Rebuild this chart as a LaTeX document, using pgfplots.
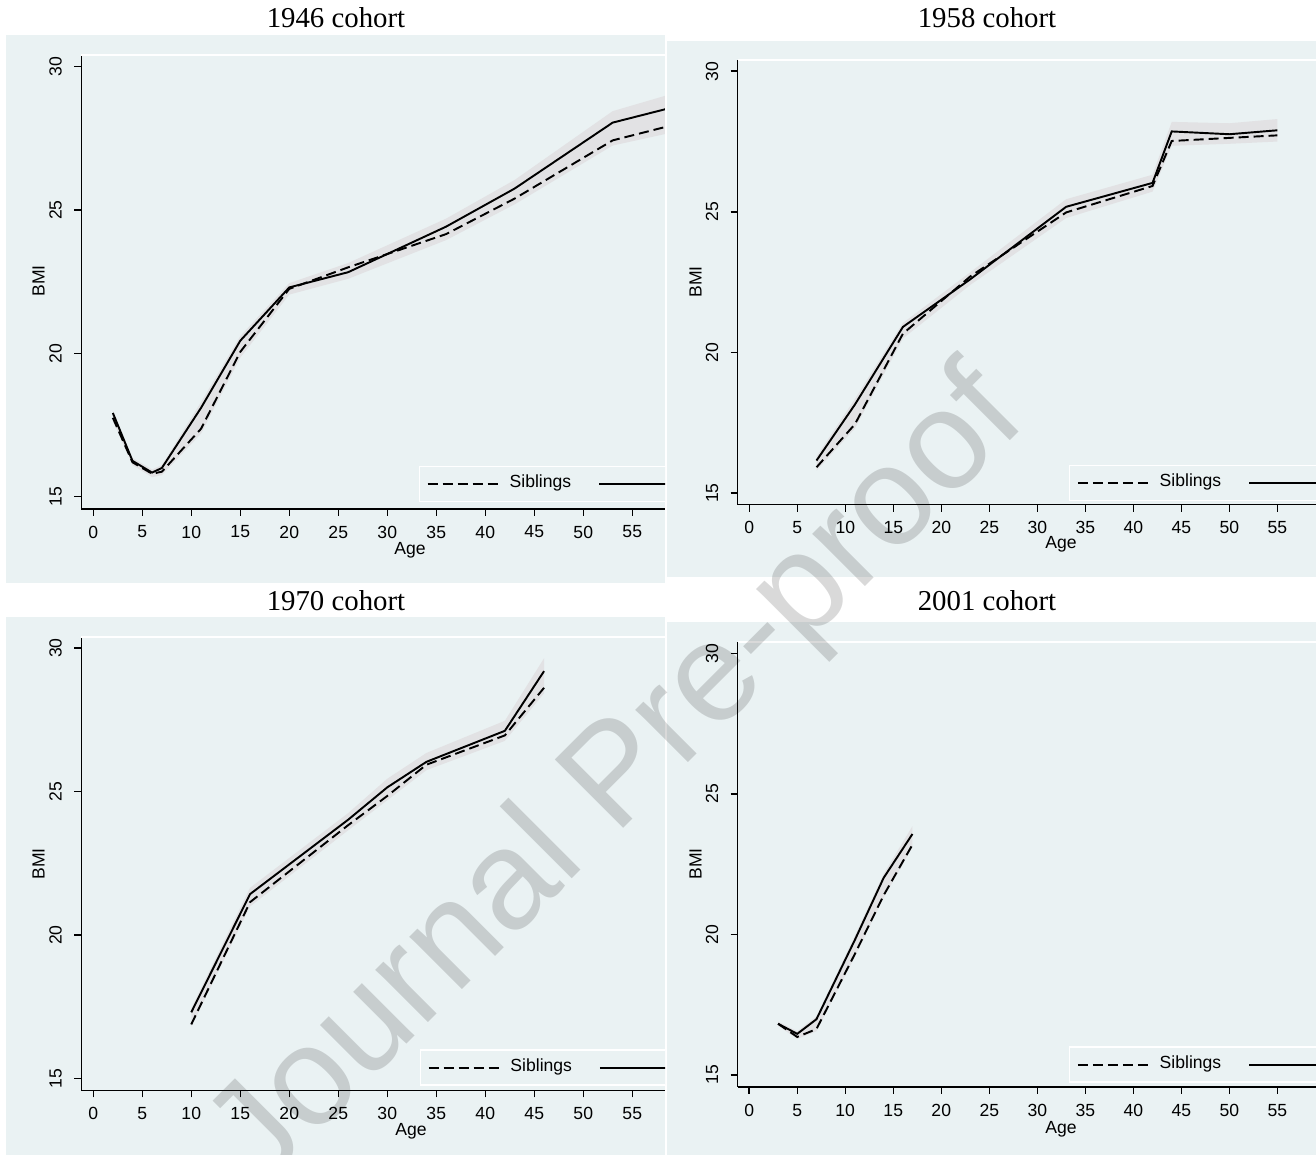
\documentclass[border=0pt]{standalone}
\usepackage{fontspec}
\setmainfont{Liberation Serif}
\setsansfont{Liberation Sans}
\usepackage{pgfplots}
\pgfplotsset{compat=1.18}
\definecolor{bgc}{RGB}{234,242,243}
\definecolor{bandc}{RGB}{226,226,228}
\newcommand{\tickfont}{\sffamily\fontsize{5}{6}\selectfont}
\newcommand{\titlefont}{\rmfamily\fontsize{8.2}{10}\selectfont}
\pgfplotsset{
  cohort/.style={
    scale only axis,
    anchor=south west,
    axis lines=left,
    axis line style={-, black, line width=0.42pt},
    tick align=outside,
    major tick length=0.07cm,
    tick style={black, line width=0.42pt},
    xtick={0,5,...,55},
    ytick={15,20,25,30},
    ticklabel style={font=\tickfont},
    /pgf/number format/assume math mode=true,
    xticklabel style={yshift=0.025cm},
    yticklabel style={rotate=90, anchor=south},
    clip=true,
    legend columns=2,
    legend cell align=left,
    legend style={draw=white, fill=bgc, font=\tickfont, anchor=north west,
      inner xsep=0.07cm, inner ysep=0.045cm, nodes={inner sep=0.04cm},
      /tikz/every odd column/.append style={column sep=0.06cm},
      /tikz/every even column/.append style={column sep=0.23cm}},
    legend image code/.code={\draw[##1] (0cm,0cm) -- (0.71cm,0cm);},
    extra description/.code={\draw[white, line width=0.6pt] (0,1) -- (1,1);},
  },
  sib/.style={black, line width=0.55pt, dash pattern=on 0.1cm off 0.05cm},
  oth/.style={black, line width=0.55pt},
  band/.style={fill=bandc, draw=none, forget plot},
}
\begin{document}
\begin{tikzpicture}
% backgrounds
\fill[bgc] (0.064,5.717) rectangle (6.65,11.20);
\fill[bgc] (6.67,5.78) rectangle (13.16,11.14);
\fill[bgc] (0.064,0) rectangle (6.65,5.377);
\fill[bgc] (6.67,0) rectangle (13.16,5.33);
% titles
\node[font=\titlefont, anchor=base] at (3.36,11.27) {1946 cohort};
\node[font=\titlefont, anchor=base] at (9.87,11.27) {1958 cohort};
\node[font=\titlefont, anchor=base] at (3.36,5.44) {1970 cohort};
\node[font=\titlefont, anchor=base] at (9.87,5.44) {2001 cohort};
% axis titles
\node[font=\tickfont, anchor=base] at (4.10,6.007) {Age};
\node[font=\tickfont, anchor=base] at (10.61,6.067) {Age};
\node[font=\tickfont, anchor=base] at (4.11,0.196) {Age};
\node[font=\tickfont, anchor=base] at (10.61,0.214) {Age};
\node[font=\tickfont, rotate=90] at (0.385,8.74) {BMI};
\node[font=\tickfont, rotate=90] at (6.956,8.73) {BMI};
\node[font=\tickfont, rotate=90] at (0.385,2.91) {BMI};
\node[font=\tickfont, rotate=90] at (6.956,2.91) {BMI};

% ---------- 1946 cohort
\begin{scope}
\clip (0.064,5.717) rectangle (6.65,11.20);
\begin{axis}[cohort, at={(0.813cm,6.46cm)}, width=5.837cm, height=4.54cm,
  xmin=-1.22, xmax=58.34, ymin=14.57, ymax=30.41,
  legend style={at={(0.5786,0.0947)}}]
\addplot[band] coordinates {(2,18.0) (4,16.35) (6,15.95) (7,16.1) (11,18.3) (15,20.6) (20,22.45) (26,23.15) (36,24.7) (43,26.05) (53,28.45) (63,29.45)
  (63,28.0) (53,27.25) (43,25.2) (36,23.95) (26,22.6) (20,22.05) (15,19.85) (11,17.2) (7,15.75) (6,15.68) (4,16.1) (2,17.65)} -- cycle;
\addplot[sib] coordinates {(2,17.75) (4,16.2) (6,15.8) (7,15.87) (11,17.37) (15,20.05) (20,22.25) (26,23.0) (36,24.16) (43,25.4) (53,27.43) (63,28.3)};
\addlegendentry{Siblings}
\addplot[oth] coordinates {(2,17.92) (4,16.25) (6,15.84) (7,16.0) (11,18.1) (15,20.44) (20,22.3) (26,22.83) (36,24.42) (43,25.75) (53,28.05) (63,28.92)};
\addlegendentry{Only children}
\end{axis}
\end{scope}

% ---------- 1958 cohort
\begin{scope}
\clip (6.67,5.78) rectangle (13.16,11.14);
\begin{axis}[cohort, at={(7.377cm,6.503cm)}, width=5.783cm, height=4.447cm,
  xmin=-1.21, xmax=59.03, ymin=14.59, ymax=30.40,
  legend style={at={(0.573,0.0893)}}]
\addplot[band] coordinates {(7,16.3) (11,18.35) (16,21.05) (23,22.85) (33,25.45) (42,26.32) (44,28.2) (50,28.15) (55,28.3)
  (55,27.5) (50,27.42) (44,27.35) (42,25.72) (33,24.78) (23,22.4) (16,20.5) (11,17.3) (7,15.8)} -- cycle;
\addplot[sib] coordinates {(7,15.92) (11,17.45) (16,20.67) (23,22.7) (33,24.98) (42,25.92) (44,27.52) (50,27.63) (55,27.72)};
\addlegendentry{Siblings}
\addplot[oth] coordinates {(7,16.16) (11,18.15) (16,20.91) (23,22.6) (33,25.18) (42,26.03) (44,27.86) (50,27.76) (55,27.9)};
\addlegendentry{Only children}
\end{axis}
\end{scope}

% ---------- 1970 cohort
\begin{scope}
\clip (0.064,0) rectangle (6.65,5.377);
\begin{axis}[cohort, at={(0.813cm,0.646cm)}, width=5.837cm, height=4.531cm,
  xmin=-1.22, xmax=58.34, ymin=14.59, ymax=30.38,
  legend style={at={(0.580,0.0905)}}]
\addplot[band] coordinates {(10,17.45) (16,21.65) (26,24.25) (30,25.45) (34,26.35) (42,27.47) (46,29.65)
  (46,28.43) (42,26.77) (34,25.75) (30,24.7) (26,23.65) (16,21.0) (10,16.8)} -- cycle;
\addplot[sib] coordinates {(10,16.89) (16,21.15) (26,23.83) (30,24.85) (34,25.94) (42,26.96) (46,28.62)};
\addlegendentry{Siblings}
\addplot[oth] coordinates {(10,17.31) (16,21.43) (26,24.02) (30,25.15) (34,26.04) (42,27.12) (46,29.2)};
\addlegendentry{Only children}
\end{axis}
\end{scope}

% ---------- 2001 cohort
\begin{scope}
\clip (6.67,0) rectangle (13.16,5.33);
\begin{axis}[cohort, at={(7.377cm,0.68cm)}, width=5.783cm, height=4.447cm,
  xmin=-1.2, xmax=59.03, ymin=14.57, ymax=30.39,
  legend style={at={(0.573,0.0913)}}]
\addplot[band] coordinates {(3,16.9) (5,16.55) (7,17.08) (11,19.95) (14,22.15) (17,23.85)
  (17,23.1) (14,21.3) (11,19.2) (7,16.55) (5,16.28) (3,16.75)} -- cycle;
\addplot[sib] coordinates {(3,16.82) (5,16.35) (7,16.63) (11,19.3) (14,21.39) (17,23.19)};
\addlegendentry{Siblings}
\addplot[oth] coordinates {(3,16.82) (5,16.46) (7,16.98) (11,19.8) (14,22.01) (17,23.57)};
\addlegendentry{Only children}
\end{axis}
\end{scope}

% watermark
\node[rotate=45, font=\sffamily\fontsize{40}{40}\selectfont, text=black, text opacity=0.15] at (6.20,3.75) {Journal Pre-proof};

\pgfresetboundingbox
\path[use as bounding box] (0,0) rectangle (13.16,11.55);
\end{tikzpicture}
\end{document}
